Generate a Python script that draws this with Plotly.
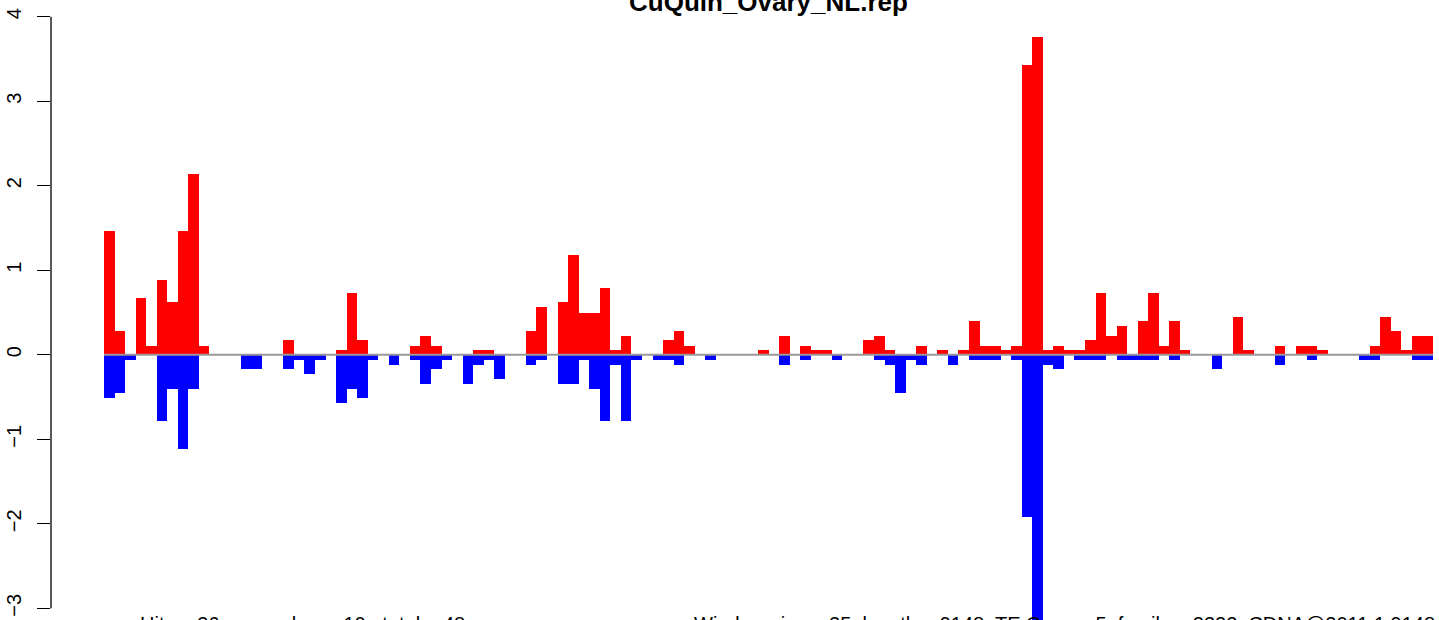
import plotly.graph_objects as go

# ---- data ----
bins = list(range(126))
pos_vals = [1.46, 0.28, 0, 0.67, 0.11, 0.89, 0.62, 1.46, 2.14, 0.11,
            0, 0, 0, 0, 0, 0, 0, 0.17, 0, 0,
            0, 0, 0.06, 0.73, 0.17, 0, 0, 0, 0, 0.11,
            0.22, 0.11, 0, 0, 0, 0.06, 0.06, 0, 0, 0,
            0.28, 0.56, 0, 0.62, 1.18, 0.50, 0.50, 0.79, 0.06, 0.22,
            0, 0, 0, 0.17, 0.28, 0.11, 0, 0, 0, 0,
            0, 0, 0.06, 0, 0.22, 0, 0.11, 0.06, 0.06, 0,
            0, 0, 0.17, 0.22, 0.06, 0, 0, 0.11, 0, 0.06,
            0, 0.06, 0.40, 0.11, 0.11, 0.06, 0.11, 3.43, 3.76, 0.06,
            0.11, 0.06, 0.06, 0.17, 0.73, 0.22, 0.34, 0, 0.40, 0.73,
            0.11, 0.40, 0.06, 0, 0, 0, 0, 0.45, 0.06, 0,
            0, 0.11, 0, 0.11, 0.11, 0.06, 0, 0, 0, 0,
            0.11, 0.45, 0.28, 0.06, 0.22, 0.22]
neg_vals = [-0.51, -0.45, -0.06, 0, 0, -0.78, -0.40, -1.12, -0.40, 0,
            0, 0, 0, -0.17, -0.17, 0, 0, -0.17, -0.06, -0.23,
            -0.06, 0, -0.57, -0.40, -0.51, -0.06, 0, -0.12, 0, -0.06,
            -0.35, -0.17, -0.06, 0, -0.35, -0.12, -0.06, -0.29, 0, 0,
            -0.12, -0.06, 0, -0.35, -0.35, -0.06, -0.40, -0.78, -0.12, -0.78,
            -0.06, 0, -0.06, -0.06, -0.12, 0, 0, -0.06, 0, 0,
            0, 0, 0, 0, -0.12, 0, -0.06, 0, 0, -0.06,
            0, 0, 0, -0.06, -0.12, -0.45, -0.06, -0.12, 0, 0,
            -0.12, 0, -0.06, -0.06, -0.06, 0, -0.06, -1.92, -3.40, -0.12,
            -0.17, 0, -0.06, -0.06, -0.06, 0, -0.06, -0.06, -0.06, -0.06,
            0, -0.06, 0, 0, 0, -0.17, 0, 0, 0, 0,
            0, -0.12, 0, 0, -0.06, 0, 0, 0, 0, -0.06,
            -0.06, 0, 0, 0, -0.06, -0.06]
y_ticks = [-3, -2, -1, 0, 1, 2, 3, 4]
title_text = "CuQuin_Ovary_NL.rep"
left_note = "Hits = 36      number = 10   total = 48"
right_note = "Window size = 25  length = 9148  TE Cons = 5  family = 2222  CDNA@2011 1 9148"

FONT = "Liberation Sans, Arial, Helvetica, sans-serif"

fig = go.Figure()
fig.add_trace(go.Bar(x=bins, y=pos_vals, width=1, marker=dict(color="#FF0000", line=dict(width=0)),
                     showlegend=False, hoverinfo="skip"))
fig.add_trace(go.Bar(x=bins, y=neg_vals, width=1, marker=dict(color="#0000FF", line=dict(width=0)),
                     showlegend=False, hoverinfo="skip"))

# zero reference line over the bars
fig.add_shape(type="line", xref="x", yref="y", x0=-0.5, x1=len(bins) - 0.5, y0=0, y1=0,
              line=dict(color="#999999", width=2), layer="above")
# R-style y axis line (only between extreme ticks)
fig.add_shape(type="line", xref="paper", yref="y", x0=0, x1=0, y0=min(y_ticks), y1=max(y_ticks),
              line=dict(color="black", width=1.3), layer="above")

W, H = 1439, 620
L, R, T, B = 51, 0, 0, 0
pw = W - L - R

def px(xp):
    return (xp - L) / pw

fig.add_annotation(text="<b>" + title_text + "</b>", xref="paper", yref="paper",
                   x=px(768), y=1.0 - 2 / H, xanchor="center", yanchor="middle",
                   showarrow=False, font=dict(family=FONT, size=26, color="black"))
fig.add_annotation(text=left_note, xref="paper", yref="paper",
                   x=px(138), y=-(4 / H), xanchor="left", yanchor="middle",
                   showarrow=False, font=dict(family=FONT, size=20, color="black"))
fig.add_annotation(text=right_note, xref="paper", yref="paper",
                   x=px(1437), y=-(4 / H), xanchor="right", yanchor="middle",
                   showarrow=False, font=dict(family=FONT, size=20, color="black"))

fig.update_layout(
    width=W, height=H,
    margin=dict(l=L, r=R, t=T, b=B, pad=0),
    paper_bgcolor="white", plot_bgcolor="white",
    barmode="overlay", bargap=0,
    xaxis=dict(range=[-5.524, 126.06], visible=False, fixedrange=True),
    yaxis=dict(range=[-3.138, 4.198], tickvals=y_ticks, ticks="outside", ticklen=13,
               tickwidth=1.3, tickcolor="black", showline=False, showgrid=False,
               zeroline=False, tickangle=-90, automargin=False, ticklabelstandoff=8,
               fixedrange=True,
               tickfont=dict(family=FONT, size=20, color="black")),
)

fig.write_html("out.html", config={"displayModeBar": False},
               post_script="document.body.style.margin='0px';document.body.style.overflow='hidden';")
